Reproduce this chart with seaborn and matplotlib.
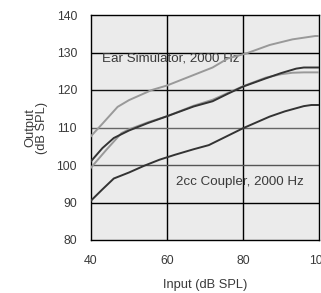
import numpy as np
import pandas as pd
import matplotlib
matplotlib.use('Agg')
import matplotlib.pyplot as plt
import seaborn as sns

# data
ear_x = [40, 43, 47, 50, 56, 60, 67, 72, 76, 81, 87, 93, 99, 100]
ear_y = [107.7, 111, 115.5, 117.3, 120, 121.2, 124, 126, 128.4, 129.8, 132, 133.5, 134.4, 134.4]

mid_dark_x = [40, 43, 46, 50, 55, 60, 67, 72, 76, 80, 86, 90, 94, 96, 100]
mid_dark_y = [101, 104.5, 107.2, 109.2, 111.2, 113, 115.6, 117, 119, 120.9, 123.1, 124.5, 125.7, 126, 126]

mid_light_x = [40, 44, 48, 50, 55, 60, 67, 72, 76, 80, 86, 90, 93, 96, 100]
mid_light_y = [99.3, 104, 108.5, 109.5, 111.4, 113, 115.8, 117.4, 119.2, 121, 123.3, 124.2, 124.6, 124.7, 124.7]

low_x = [40, 43, 46, 50, 54, 58, 62, 67, 71, 75, 80, 87, 91, 96, 98, 100]
low_y = [90.5, 93.5, 96.4, 98, 99.8, 101.4, 102.7, 104.2, 105.3, 107.3, 109.8, 112.9, 114.3, 115.7, 116, 116]

x_ticks = [40, 60, 80, 100]
y_ticks = [80, 90, 100, 110, 120, 130, 140]

light = '#999999'
dark = '#333333'
txt = '#3a3a3a'

plt.rcParams['font.family'] = ['Liberation Sans', 'DejaVu Sans']
plt.rcParams['font.size'] = 9

fig = plt.figure(figsize=(3.21, 2.93), dpi=100)
ax = fig.add_axes([91 / 321, 1 - 240 / 293, (319 - 91) / 321, 225 / 293])
ax.set_facecolor('#ebebeb')

# grid lines
for v in [60, 80]:
    ax.axvline(v, color='black', lw=1.0, zorder=1)
for h, c in [(90, 'black'), (100, '#555555'), (110, '#666666'), (120, '#111111'), (130, 'black')]:
    ax.axhline(h, color=c, lw=1.0, zorder=1)

series = [
    (ear_x, ear_y, light),
    (mid_light_x, mid_light_y, light),
    (mid_dark_x, mid_dark_y, dark),
    (low_x, low_y, dark),
]
for xs, ys, col in series:
    df = pd.DataFrame({'x': xs, 'y': ys})
    sns.lineplot(data=df, x='x', y='y', color=col, lw=1.4, ax=ax, zorder=3)

ax.text(43, 128.4, 'Ear Simulator, 2000 Hz', color=txt, fontsize=9.6, va='center', zorder=2)
ax.text(62.3, 95.5, '2cc Coupler, 2000 Hz', color=txt, fontsize=9.6, va='center', zorder=2)

ax.set_xlim(40, 100)
ax.set_ylim(80, 140)
ax.set_xticks(x_ticks)
ax.set_yticks(y_ticks)
ax.tick_params(axis='y', length=0, labelsize=8.8, labelcolor=txt, pad=10)
ax.tick_params(axis='x', length=0, labelsize=8.8, labelcolor=txt, pad=10.5)
ax.set_xlabel('Input (dB SPL)', color=txt, fontsize=9.3, labelpad=9)
ax.set_ylabel('Output\n(dB SPL)', color=txt, fontsize=9.3, labelpad=6, linespacing=1.0)
for s in ax.spines.values():
    s.set_color('black')
    s.set_linewidth(1.0)

fig.savefig('out.png', dpi=100)
